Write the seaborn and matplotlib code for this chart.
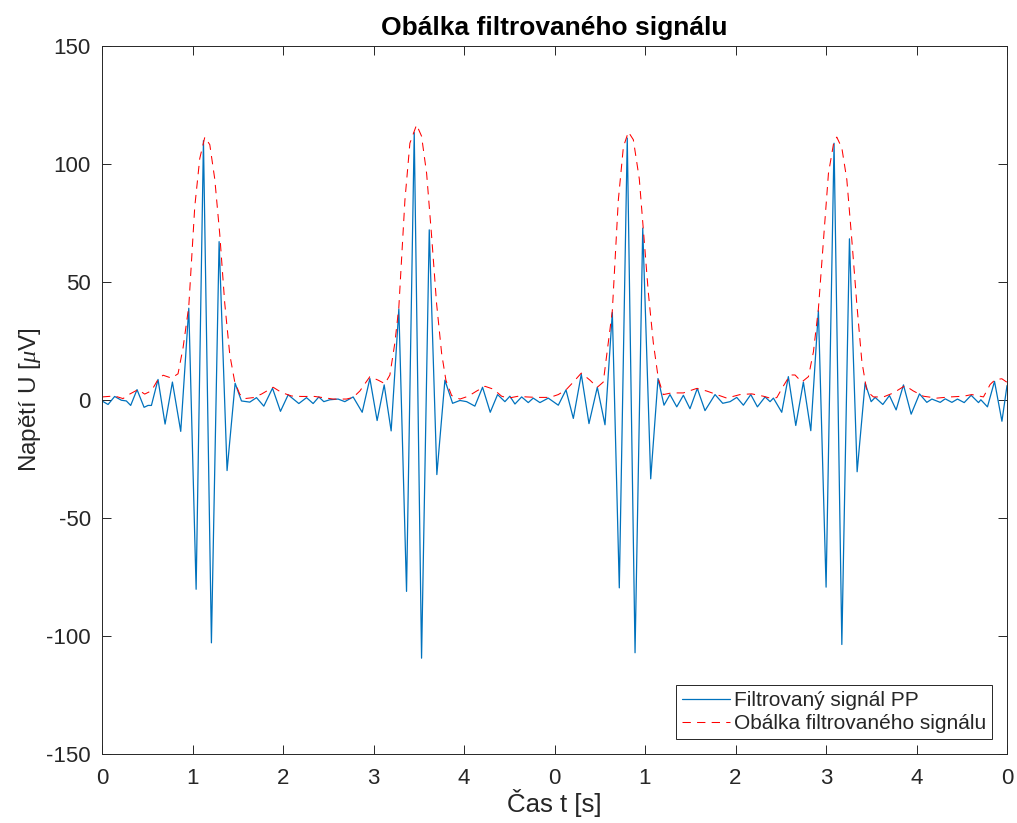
import numpy as np
import pandas as pd
import matplotlib
matplotlib.use("Agg")
import matplotlib.pyplot as plt
import seaborn as sns

# ---- data (time in s, voltage in uV) ----
signal_t = [
    0.000, 0.067, 0.140, 0.214, 0.269, 0.317, 0.387, 0.465, 0.509, 0.546,
    0.619, 0.697, 0.778, 0.870, 0.959, 1.040, 1.121, 1.209, 1.294, 1.382,
    1.471, 1.541, 1.633, 1.707, 1.788, 1.884, 1.972, 2.057, 2.175, 2.260,
    2.333, 2.396,
    2.451, 2.517, 2.609, 2.683, 2.775, 2.875, 2.960, 3.040, 3.118, 3.195,
    3.280, 3.365, 3.450, 3.531, 3.616, 3.700, 3.789, 3.874, 3.955, 4.029,
    4.120, 4.205, 4.290, 4.371, 4.452, 4.507, 4.563, 4.637, 4.710, 4.765,
    4.839,
    4.931, 5.042, 5.127, 5.208, 5.296, 5.381, 5.473, 5.558, 5.639, 5.716,
    5.804, 5.890, 5.975, 6.063, 6.144, 6.210, 6.276, 6.351, 6.424, 6.497,
    6.578, 6.663, 6.774, 6.859, 6.940, 7.014, 7.087, 7.169, 7.242, 7.327,
    7.382, 7.419,
    7.511, 7.584, 7.666, 7.750, 7.832, 7.916, 8.001, 8.089, 8.175, 8.259,
    8.344, 8.432, 8.499, 8.543, 8.628, 8.701, 8.775, 8.856, 8.941, 9.033,
    9.114, 9.170, 9.262, 9.317, 9.391, 9.453, 9.527, 9.604, 9.685, 9.711,
    9.784, 9.862, 9.944, 10.000,
]
signal_u = [
    -0.4, -1.9, 1.5, -0.1, -0.4, -2.3, 4.4, -3.1, -2.3, -2.3,
    8.7, -10.2, 7.6, -13.3, 38.9, -80.2, 109.9, -102.9, 67.1, -29.9,
    7.1, -0.4, -0.9, 1.0, -2.6, 5.0, -4.8, 2.2, -1.5, 1.0,
    -1.5, 1.3,
    -0.7, 0.1, 0.4, -0.7, 1.3, -5.2, 9.1, -8.7, 6.4, -13.1,
    38.6, -81.1, 113.3, -109.4, 72.1, -31.6, 8.4, -1.4, -0.2, -0.7,
    -2.6, 5.4, -5.2, 2.3, -0.7, 1.6, -1.7, 1.3, -1.1, 0.8,
    -1.1,
    0.8, -2.2, 4.3, -7.8, 10.9, -10.0, 5.4, -10.5, 37.1, -79.6,
    111.0, -107.1, 72.8, -33.4, 9.1, -2.2, 2.3, -2.9, 2.0, -3.7,
    4.9, -4.5, 2.3, -1.4, -0.7, 1.1, -2.2, 2.3, -2.9, 1.3,
    -0.7, 0.8,
    -5.2, 9.9, -10.8, 7.6, -13.0, 37.8, -79.3, 108.8, -103.6, 68.3,
    -30.4, 7.2, -0.7, 1.1, -1.9, 1.9, -4.2, 6.4, -6.0, 2.6,
    -1.0, 0.4, -1.0, 0.5, -1.0, 0.4, -1.1, 2.0, -1.1, 0.1,
    -2.9, 7.9, -9.0, 6.1,
]

envelope_t = [
    0.000, 0.140, 0.232, 0.306, 0.398, 0.472, 0.546, 0.619, 0.675, 0.767,
    0.840, 0.896, 0.959, 1.025, 1.080, 1.136, 1.191, 1.246, 1.301, 1.356,
    1.412, 1.467, 1.522, 1.577, 1.670, 1.762, 1.891, 1.983, 2.094, 2.204,
    2.351,
    2.554, 2.702, 2.775, 2.849, 2.960, 3.052, 3.126, 3.181, 3.236, 3.280,
    3.347, 3.402, 3.476, 3.531, 3.587, 3.642, 3.697, 3.753, 3.800, 3.863,
    3.955, 4.047, 4.140, 4.232, 4.324, 4.416, 4.490, 4.600, 4.692, 4.803,
    4.950, 5.042, 5.127, 5.208, 5.296, 5.392, 5.473, 5.539, 5.594, 5.639,
    5.705, 5.761, 5.816, 5.871, 5.937, 5.981, 6.037, 6.092, 6.147, 6.202,
    6.294, 6.424, 6.571, 6.682, 6.792, 6.903, 7.050, 7.179, 7.308,
    7.382, 7.456, 7.530, 7.603, 7.658, 7.732, 7.806, 7.861, 7.916, 7.971,
    8.027, 8.082, 8.119, 8.175, 8.230, 8.285, 8.340, 8.396, 8.451, 8.524,
    8.635, 8.745, 8.874, 8.966, 9.077, 9.224, 9.372, 9.519, 9.611, 9.740,
    9.814, 9.869, 9.943, 10.000,
]
envelope_u = [
    1.3, 1.7, 0.6, 2.5, 4.4, 2.5, 3.9, 8.7, 10.5, 9.3,
    11.1, 22.2, 39.7, 81.9, 102.3, 111.4, 108.2, 93.6, 70.3, 41.1,
    19.2, 7.6, 2.5, 0.6, 1.0, 2.5, 5.4, 3.2, 1.7, 1.5,
    1.5,
    0.4, 0.4, 1.1, 3.8, 9.9, 8.4, 6.9, 10.6, 24.2, 39.3,
    84.6, 108.8, 116.6, 111.8, 96.0, 69.5, 40.9, 19.7, 8.4, 1.9,
    0.4, 1.6, 3.8, 5.8, 4.6, 1.6, 0.8, 1.6, 1.3, 1.1,
    1.1, 2.3, 4.3, 7.6, 11.4, 8.4, 5.4, 7.6, 24.2, 37.8,
    84.6, 107.2, 113.6, 110.3, 93.7, 72.5, 45.4, 24.2, 9.1, 2.3,
    3.0, 3.0, 4.9, 3.8, 2.3, 0.8, 2.3, 2.6, 1.6,
    0.8, 1.0, 6.0, 10.6, 10.6, 7.6, 9.9, 20.4, 38.6, 67.2,
    96.0, 108.3, 111.4, 106.8, 93.4, 68.0, 40.9, 16.4, 3.8, 1.3,
    1.3, 3.0, 6.1, 3.8, 1.6, 0.8, 1.3, 1.6, 2.3, 1.3,
    6.6, 8.6, 9.0, 7.5,
]

x_ticks = [0, 1, 2, 3, 4, 5, 6, 7, 8, 9, 10]
x_ticklabels = ["0", "1", "2", "3", "4", "0", "1", "2", "3", "4", "0"]
y_ticks = [-150, -100, -50, 0, 50, 100, 150]

title = "Obálka filtrovaného signálu"
xlabel = "Čas t [s]"
ylabel = r"Napětí U [$\mu$V]"
label_signal = "Filtrovaný signál PP"
label_env = "Obálka filtrovaného signálu"

# ---- styling ----
sns.set_style("ticks")
plt.rcParams["font.family"] = ["Liberation Sans", "DejaVu Sans"]
plt.rcParams["mathtext.fontset"] = "custom"
plt.rcParams["mathtext.it"] = "Liberation Serif:italic"
plt.rcParams["mathtext.rm"] = "Liberation Sans"

axis_col = "#262626"

fig = plt.figure(figsize=(10.17, 8.23), dpi=100)
ax = fig.add_axes([102 / 1017, 1 - 754 / 823, 905 / 1017, 708 / 823])

df_sig = pd.DataFrame({"t": signal_t, "u": signal_u})
df_env = pd.DataFrame({"t": envelope_t, "u": envelope_u})

sns.lineplot(data=df_sig, x="t", y="u", ax=ax, color="#0072BD", lw=0.9,
             estimator=None, sort=False, label=label_signal)
sns.lineplot(data=df_env, x="t", y="u", ax=ax, color="#FF0000", lw=0.75,
             estimator=None, sort=False, label=label_env,
             linestyle=(0, (8, 6)))

ax.set_xlim(0, 10)
ax.set_ylim(-150, 150)
ax.set_xticks(x_ticks)
ax.set_xticklabels(x_ticklabels)
ax.set_yticks(y_ticks)
ax.set_yticklabels([str(v) for v in y_ticks])

for s in ax.spines.values():
    s.set_visible(True)
    s.set_color(axis_col)
    s.set_linewidth(0.7)
ax.tick_params(axis="both", which="both", direction="in", top=True, right=True,
               length=6.5, width=0.7, color=axis_col, labelcolor=axis_col,
               labelsize=16)
ax.tick_params(axis="x", pad=10)
ax.tick_params(axis="y", pad=8)

ax.set_title(title, fontsize=19, fontweight="bold", color="black", pad=8)
ax.set_xlabel(xlabel, fontsize=18.5, color=axis_col)
ax.set_ylabel(ylabel, fontsize=17.5, color=axis_col)
ax.xaxis.label.set_va("center")
ax.yaxis.label.set_va("center")
ax.xaxis.set_label_coords(0.5, (754 - 803) / 708)
ax.yaxis.set_label_coords((30 - 102) / 905, 0.5)

leg = ax.legend(loc="lower right", fontsize=15, frameon=True, fancybox=False,
                edgecolor=axis_col, framealpha=1, borderpad=0.3,
                handlelength=2.3, handletextpad=0.2, labelspacing=0.2,
                borderaxespad=0.7)
leg.get_frame().set_linewidth(0.7)

fig.savefig("out.png", dpi=100)
